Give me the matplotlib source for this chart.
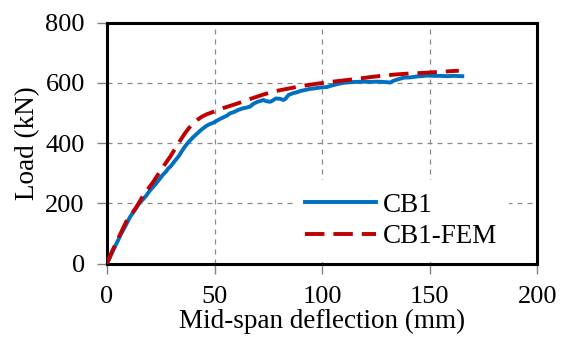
import matplotlib
matplotlib.use("Agg")
import matplotlib.pyplot as plt

# ---- data ----
cb1_x = [0, 1, 2, 3.6, 5, 6.5, 8.3, 10, 11, 12.9, 14, 15.5, 17, 18.4, 20, 21, 22.5,
         24.6, 26, 27.5, 28.5, 29.5, 30.9, 32.5, 33.5, 34.5, 36.3, 38, 40, 41.8, 44,
         46, 47.5, 49.6, 52, 54, 56, 57, 59, 61, 63, 65, 66.5, 68, 70, 71.5, 72.8, 74,
         75.9, 77, 78.5, 80.5, 82, 83, 84.5, 86.7, 88, 90, 92, 94.5, 96, 98, 100,
         102.3, 104, 106, 108, 110, 113.2, 116, 119, 122, 125.6, 128, 130, 131.8, 133,
         135, 138, 141, 144, 146, 148.9, 152, 155, 158, 161, 165.2]
cb1_y = [0, 15, 30, 55, 75, 98, 121, 145, 158, 177, 190, 204, 215, 227, 243, 251, 263,
         282, 295, 306, 316, 322, 335, 349, 358, 370, 389, 404, 419, 431, 445,
         456, 462, 468, 478, 485, 492, 498, 503, 510, 515, 518, 521, 530, 537, 540, 543, 539,
         537, 541, 548, 547, 543, 547, 560, 566, 568, 573, 576, 580, 581, 583, 585,
         586, 590, 594, 597, 600, 602, 603, 604, 603, 604, 603, 602, 601, 606,
         611, 617, 618, 621, 622, 624, 623, 623, 622, 623, 622]

fem_x = [0, 2, 5.9, 9, 13.7, 17, 21.5, 25, 29.3, 32, 34, 36, 38, 40, 42, 44, 46.5, 50,
         54, 60.5, 66, 72.7, 78, 85.2, 91, 97.6, 104, 110, 116, 122.5, 128.5, 134.9,
         141, 147.3, 154, 160.5, 163.6]
fem_y = [0, 35, 94, 140, 188, 228, 271, 310, 354, 385, 408, 430, 449, 464, 477, 487,
         496, 505, 516, 531, 545, 561, 572, 582, 590, 597, 603, 608, 613, 619, 624, 628,
         631, 633, 636, 639, 640]

labels = ["CB1", "CB1-FEM"]
x_ticks = [0, 50, 100, 150, 200]
y_ticks = [0, 200, 400, 600, 800]
x_label = "Mid-span deflection (mm)"
y_label = "Load (kN)"

plt.rcParams['font.family'] = ['Liberation Serif', 'DejaVu Serif']

fig = plt.figure(figsize=(5.66, 3.52), dpi=100)
ax = fig.add_axes([0.189, 0.251, 0.760, 0.685])

ax.plot(cb1_x, cb1_y, color='#0070C0', lw=2.8, label=labels[0], zorder=3,
        solid_joinstyle='round')
ax.plot(fem_x, fem_y, color='#C00000', lw=2.8, linestyle=(0, (5, 2.3)),
        label=labels[1], zorder=4)

ax.set_xlim(0, 200)
ax.set_ylim(0, 800)
ax.set_xticks(x_ticks)
ax.set_yticks(y_ticks)
ax.grid(True, color='#8a8a8a', linestyle=(0, (4, 4)), lw=0.9)
ax.set_axisbelow(True)

for s in ax.spines.values():
    s.set_linewidth(2.2)
    s.set_color('black')

ax.tick_params(axis='both', direction='out', length=7, width=1, color='#808080',
               labelsize=19, pad=9)

ax.set_xlabel(x_label, fontsize=19.5, labelpad=1)
ax.set_ylabel(y_label, fontsize=19.5, labelpad=4)

leg = ax.legend(loc='upper left', bbox_to_anchor=(0.4326, 0.345), borderaxespad=0,
                fontsize=19.5, frameon=True, fancybox=False, handlelength=2.6,
                handletextpad=0.25, labelspacing=0.25, borderpad=0.45)
leg.get_frame().set_edgecolor('none')
leg.get_frame().set_facecolor('white')
leg.get_frame().set_alpha(1)

fig.savefig("out.png", dpi=100)
